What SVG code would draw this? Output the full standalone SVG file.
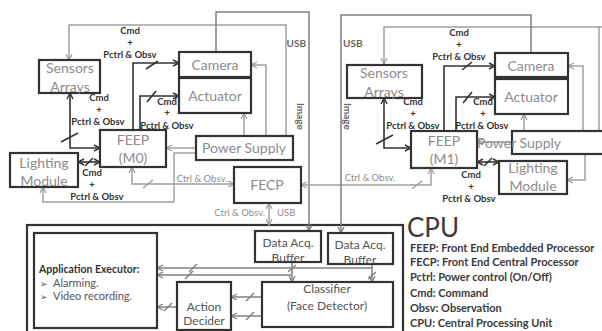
<svg xmlns="http://www.w3.org/2000/svg" width="602" height="331" viewBox="0 0 602 331">
<defs>
<style>
.box{fill:#fff;stroke:#333;stroke-width:2.2}
.frame{fill:none;stroke:#333;stroke-width:2.2}
.bt{font-family:Lato,"Liberation Sans",sans-serif;font-size:14px;fill:#8c8c8c;text-anchor:middle}
.dt{font-family:Lato,"Liberation Sans",sans-serif;font-size:12px;fill:#555;text-anchor:middle}
.lb{font-family:Lato,"Liberation Sans",sans-serif;font-size:9.5px;font-weight:bold;fill:#333;text-anchor:middle}
.gl{font-family:Lato,"Liberation Sans",sans-serif;font-size:9.5px;fill:#8c8c8c}
.ul{font-family:Lato,"Liberation Sans",sans-serif;font-size:10px;font-weight:bold;fill:#666}
.lg{font-family:Lato,"Liberation Sans",sans-serif;font-size:11px;font-weight:bold;fill:#3a3a3a}
.g{fill:none;stroke:#a0a0a0;stroke-width:1.5}
.gd{fill:none;stroke:#808080;stroke-width:1.5}
.d{fill:none;stroke:#333;stroke-width:1.6}
.sg{stroke:#a0a0a0;stroke-width:1.5}
.sgd{stroke:#808080;stroke-width:1.5}
.sd{stroke:#333;stroke-width:1.6}
</style>
<marker id="ag" viewBox="0 0 8 8" refX="7" refY="4" markerWidth="8" markerHeight="8" markerUnits="userSpaceOnUse" orient="auto-start-reverse"><path d="M1,1 L7,4 L1,7" fill="none" stroke="#a0a0a0" stroke-width="1.3"/></marker>
<marker id="agd" viewBox="0 0 8 8" refX="7" refY="4" markerWidth="8" markerHeight="8" markerUnits="userSpaceOnUse" orient="auto-start-reverse"><path d="M1,1 L7,4 L1,7" fill="none" stroke="#808080" stroke-width="1.3"/></marker>
<marker id="ad" viewBox="0 0 8 8" refX="7" refY="4" markerWidth="8" markerHeight="8" markerUnits="userSpaceOnUse" orient="auto-start-reverse"><path d="M1,1 L7,4 L1,7" fill="none" stroke="#333" stroke-width="1.4"/></marker>
</defs>
<rect width="602" height="331" fill="#fff"/>

<g id="cpu"><rect class="frame" x="27" y="225" width="376" height="115"/>
<text x="407" y="237" font-family="Lato,'Liberation Sans',sans-serif" font-size="26" fill="#3a3a3a">CPU</text></g>

<g id="connectors">
<!-- left cluster gray -->
<path class="g" d="M286,136 V25 H69 V60" marker-end="url(#ag)"/>
<path class="g" d="M266,136 V65 H251" marker-end="url(#ag)"/>
<path class="g" d="M244,136 V113" marker-end="url(#ag)"/>
<path class="g" d="M196,148 H166" marker-end="url(#ag)"/>
<path class="g" d="M196,153 H174 V202 H43 V187" marker-end="url(#ag)"/>
<path class="g" d="M132,167 V184 H234" marker-start="url(#ag)" marker-end="url(#ag)"/>
<line class="sg" x1="143" y1="188" x2="153" y2="180"/>
<path class="gd" d="M216,52 V12 H309 V231" marker-end="url(#agd)"/>
<!-- left cluster dark -->
<path class="d" d="M70,93 V148 H100" marker-start="url(#ad)" marker-end="url(#ad)"/>
<line class="sd" x1="61" y1="142" x2="78" y2="133"/>
<path class="d" d="M133,130 V63 H179" marker-end="url(#ad)"/>
<line class="sd" x1="146" y1="69" x2="158" y2="61"/>
<path class="d" d="M140,130 V96 H179" marker-end="url(#ad)"/>
<line class="sd" x1="147" y1="102" x2="156" y2="91"/>
<path class="d" d="M78,162 H100" marker-start="url(#ad)" marker-end="url(#ad)"/>
<line class="sd" x1="85" y1="166" x2="93" y2="158"/>
<!-- right cluster gray -->
<path class="g" d="M599,131 V27 H384 V64" marker-end="url(#ag)"/>
<line class="sg" x1="599" y1="27" x2="602" y2="27"/>
<path class="g" d="M583,131 V66 H568" marker-end="url(#ag)"/>
<path class="g" d="M524,131 V114" marker-end="url(#ag)"/>
<path class="g" d="M512,142 H477" marker-end="url(#ag)"/>
<path class="g" d="M585,154 V180 H567" marker-end="url(#ag)"/>
<path class="g" d="M431,168 V185 H301" marker-start="url(#ag)" marker-end="url(#ag)"/>
<line class="sg" x1="412" y1="189" x2="422" y2="181"/>
<path class="gd" d="M531,53 V15 H341 V233" marker-end="url(#agd)"/>
<!-- right cluster dark -->
<path class="d" d="M384,98 V148 H411" marker-start="url(#ad)" marker-end="url(#ad)"/>
<line class="sd" x1="376" y1="144" x2="393" y2="135"/>
<path class="d" d="M444,131 V66 H495" marker-end="url(#ad)"/>
<line class="sd" x1="462" y1="70" x2="472" y2="62"/>
<path class="d" d="M456,131 V97 H495" marker-end="url(#ad)"/>
<line class="sd" x1="463" y1="103" x2="472" y2="92"/>
<path class="d" d="M477,162 H499" marker-start="url(#ad)" marker-end="url(#ad)"/>
<line class="sd" x1="484" y1="166" x2="492" y2="158"/>
<!-- FECP to CPU -->
<path class="g" d="M269,203 V225" marker-start="url(#ag)" marker-end="url(#ag)"/>
<!-- CPU internal -->
<path class="gd" d="M292,262 V282" marker-end="url(#agd)"/>
<line class="sgd" x1="288" y1="272" x2="296" y2="265"/>
<path class="gd" d="M372,264 V282" marker-end="url(#agd)"/>
<line class="sgd" x1="368" y1="279" x2="376" y2="272"/>
<path class="gd" d="M292,275 H157" marker-end="url(#agd)"/>
<line class="sgd" x1="185" y1="279" x2="193" y2="271"/>
<path class="gd" d="M372,268 H157" marker-end="url(#agd)"/>
<line class="sgd" x1="189" y1="272" x2="197" y2="264"/>
<path class="gd" d="M262,297 H231" marker-end="url(#agd)"/>
<line class="sgd" x1="246" y1="301" x2="254" y2="293"/>
<path class="gd" d="M262,316 H231" marker-end="url(#agd)"/>
<line class="sgd" x1="246" y1="320" x2="254" y2="312"/>
<path class="gd" d="M177,307 H157" marker-end="url(#agd)"/>
<line class="sgd" x1="164" y1="311" x2="172" y2="303"/>
</g>

<g id="labels">
<text class="lb" x="130" y="34">Cmd</text><text class="lb" x="130" y="46">+</text><text class="lb" x="130" y="58">Pctrl &amp; Obsv</text>
<text class="lb" x="99" y="101">Cmd</text><text class="lb" x="99" y="113">+</text><text class="lb" x="98" y="125">Pctrl &amp; Obsv</text>
<text class="lb" x="167" y="105">Cmd</text><text class="lb" x="167" y="116">+</text><text class="lb" x="167" y="129">Pctrl &amp; Obsv</text>
<text class="lb" x="92" y="176">Cmd</text><text class="lb" x="92" y="188">+</text><text class="lb" x="97" y="200">Pctrl &amp; Obsv</text>
<text class="lb" x="459" y="36">Cmd</text><text class="lb" x="459" y="48">+</text><text class="lb" x="459" y="60">Pctrl &amp; Obsv</text>
<text class="lb" x="413" y="105">Cmd</text><text class="lb" x="413" y="117">+</text><text class="lb" x="413" y="129">Pctrl &amp; Obsv</text>
<text class="lb" x="483" y="105">Cmd</text><text class="lb" x="483" y="117">+</text><text class="lb" x="482" y="129">Pctrl &amp; Obsv</text>
<text class="lb" x="471" y="178">Cmd</text><text class="lb" x="471" y="190">+</text><text class="lb" x="469" y="202">Pctrl &amp; Obsv</text>
<text class="gl" x="202" y="182" text-anchor="middle">Ctrl &amp; Obsv.</text>
<text class="gl" x="370" y="181" text-anchor="middle">Ctrl &amp; Obsv.</text>
<text class="gl" x="265" y="216" text-anchor="end">Ctrl &amp; Obsv.</text>
<text class="gl" x="277" y="216">USB</text>
<text class="ul" x="306" y="47" text-anchor="end">USB</text>
<text class="ul" x="343" y="47">USB</text>
<text class="ul" transform="translate(297,103) rotate(90)">Image</text>
<text class="ul" transform="translate(344,103) rotate(90)">Image</text>
</g>

<g id="sensors-left"><rect class="box" x="39" y="60" width="61" height="33"/><text class="bt" x="70" y="73">Sensors</text><text class="bt" x="70" y="92">Arrays</text></g>
<g id="camera-left"><rect class="box" x="179" y="52" width="72" height="25"/><text class="bt" x="215" y="70">Camera</text></g>
<g id="actuator-left"><rect class="box" x="179" y="78" width="72" height="35"/><text class="bt" x="215" y="101">Actuator</text></g>
<g id="feep-m0"><rect class="box" x="100" y="130" width="66" height="37"/><text class="bt" x="133" y="145">FEEP</text><text class="bt" x="133" y="163">(M0)</text></g>
<g id="power-left"><rect class="box" x="196" y="136" width="97" height="24"/><text class="bt" x="244" y="153">Power Supply</text></g>
<g id="lighting-left"><rect class="box" x="10" y="153" width="68" height="34"/><text class="bt" x="44" y="168">Lighting</text><text class="bt" x="44" y="186">Module</text></g>
<g id="fecp"><rect class="box" x="234" y="167" width="67" height="36"/><text class="bt" x="267" y="190">FECP</text></g>

<g id="sensors-right"><rect class="box" x="347" y="65" width="75" height="33"/><text class="bt" x="384" y="78">Sensors</text><text class="bt" x="384" y="97">Arrays</text></g>
<g id="camera-right"><rect class="box" x="495" y="53" width="73" height="24"/><text class="bt" x="531" y="71">Camera</text></g>
<g id="actuator-right"><rect class="box" x="495" y="79" width="73" height="35"/><text class="bt" x="531" y="102">Actuator</text></g>
<g id="feep-m1"><rect class="box" x="411" y="131" width="66" height="37"/><text class="bt" x="444" y="146">FEEP</text><text class="bt" x="444" y="164">(M1)</text></g>
<g id="power-right"><rect class="box" x="512" y="131" width="100" height="23"/><text class="bt" x="519" y="148" text-anchor="start">Power Supply</text></g>
<g id="lighting-right"><rect class="box" x="499" y="161" width="68" height="33"/><text class="bt" x="533" y="173">Lighting</text><text class="bt" x="533" y="191">Module</text></g>

<g id="buffer-1"><rect class="box" x="255" y="231" width="66" height="31"/><text class="dt" x="288" y="247">Data Acq.</text><text class="dt" x="288" y="262">Buffer</text></g>
<g id="buffer-2"><rect class="box" x="328" y="233" width="65" height="31"/><text class="dt" x="360" y="249">Data Acq.</text><text class="dt" x="360" y="264">Buffer</text></g>
<g id="classifier"><rect class="box" x="262" y="282" width="131" height="45"/><text class="dt" x="327" y="293">Classifier</text><text class="dt" x="327" y="310">(Face Detector)</text></g>
<g id="action-decider"><rect class="box" x="177" y="282" width="54" height="48"/><text class="dt" x="204" y="311">Action</text><text class="dt" x="204" y="325">Decider</text></g>
<g id="app-executor"><rect class="box" x="34" y="233" width="123" height="95"/>
<text x="39" y="273" font-family="Lato,'Liberation Sans',sans-serif" font-size="10.5" font-weight="bold" fill="#333">Application Executor:</text>
<text x="40" y="287" font-family="'DejaVu Sans',sans-serif" font-size="9" fill="#555">➢</text><text x="53" y="287" font-family="Lato,'Liberation Sans',sans-serif" font-size="11" fill="#555">Alarming.</text>
<text x="40" y="300" font-family="'DejaVu Sans',sans-serif" font-size="9" fill="#555">➢</text><text x="53" y="300" font-family="Lato,'Liberation Sans',sans-serif" font-size="11" fill="#555">Video recording.</text>
</g>

<g id="legend">
<text class="lg" x="410" y="252">FEEP: Front End Embedded Processor</text>
<text class="lg" x="410" y="266">FECP: Front End Central Processor</text>
<text class="lg" x="410" y="281">Pctrl: Power control (On/Off)</text>
<text class="lg" x="410" y="297">Cmd: Command</text>
<text class="lg" x="410" y="312">Obsv: Observation</text>
<text class="lg" x="410" y="327">CPU: Central Processing Unit</text>
</g>
</svg>
